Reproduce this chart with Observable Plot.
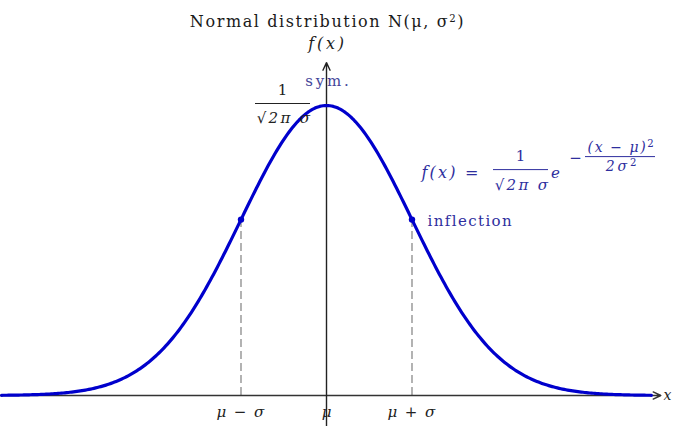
<!DOCTYPE html>
<html>
<head>
<meta charset="utf-8">
<script src="https://cdn.jsdelivr.net/npm/d3@7"></script>
<script src="https://cdn.jsdelivr.net/npm/@observablehq/plot@0.6"></script>
<style>
  html, body { margin: 0; padding: 0; background: #fff; }
</style>
</head>
<body>
<div id="chart"></div>
<script>
// Parameters of the distribution shown (standardised units)
const mu = 0;
const sigma = 1;
const curveExtent = [-3.8, 3.8];          // where the drawn curve starts / ends (in σ)
const xTicks = [mu - sigma, mu, mu + sigma];
const xTickLabels = ["μ − σ", "μ", "μ + σ"];
const inflectionX = [mu - sigma, mu + sigma];

const pdf = x => Math.exp(-((x - mu) ** 2) / (2 * sigma ** 2)) / (Math.sqrt(2 * Math.PI) * sigma);
const peak = pdf(mu);
const curve = d3.range(curveExtent[0], curveExtent[1] + 1e-9, 0.02).map(x => ({x, y: pdf(x)}));

const blue = "#0000cc";
const textBlue = "#2e2e9e";
const serif = "'DejaVu Serif', 'Liberation Serif', serif";

// letter spacing per label (applied after rendering)
const spacing = new Map([
  ["Normal distribution N(μ, σ²)", 1.6],
  ["f(x)", 2.8],
  ["sym.", 2.8],
  ["√2π σ", 2.3],
  ["f(x) =", 2.2],
  ["(x − μ)²", 1.6],
  ["2σ²", 2.8],
  ["inflection", 1.4],
  ["μ − σ", 1.4],
  ["μ + σ", 1.4]
]);

// annotation helper: absolute pixel placement inside the frame
const note = (text, dx, dy, opts = {}) =>
  Plot.text([text], {frameAnchor: "top-left", dx, dy, text: d => d, textAnchor: "middle", lineAnchor: "middle", fontSize: 13, ...opts});

const chart = Plot.plot({
  width: 673,
  height: 426,
  margin: 0,
  x: {domain: [-326 / 85.5, 347 / 85.5], range: [0, 673], axis: null},
  y: {domain: [0, peak], range: [395, 105], axis: null},
  style: {fontFamily: serif, background: "#fff", color: "#222"},
  marks: [
    // dashed verticals at μ ± σ
    Plot.ruleX(inflectionX, {x: d => d, y1: 0, y2: d => pdf(d), stroke: "#8a8a8a", strokeWidth: 1.3, strokeDasharray: "8,4"}),
    // x axis with arrow
    Plot.arrow([0], {x1: curveExtent[0] - 0.02, y1: 0, x2: 3.91, y2: 0, stroke: "#333", strokeWidth: 1.4, headLength: 9, headAngle: 50}),
    // y axis with arrow
    Plot.arrow([0], {x1: mu, y1: -0.11 * peak, x2: mu, y2: 1.148 * peak, stroke: "#222", strokeWidth: 1.4, headLength: 9, headAngle: 50}),
    // curve
    Plot.line(curve, {x: "x", y: "y", stroke: blue, strokeWidth: 3.2}),
    // inflection points
    Plot.dot(inflectionX, {x: d => d, y: d => pdf(d), r: 3.2, fill: blue, stroke: null}),
    // x tick labels
    Plot.text(xTicks, {x: d => d, y: 0, dy: 17, text: (d, i) => xTickLabels[i], fontSize: 15, fontStyle: "italic", fill: "#222"}),
    // axis labels
    note("x", 667, 395, {fontStyle: "italic", fontSize: 14}),
    note("f(x)", 327, 43, {fontStyle: "italic", fontSize: 16}),
    // title
    note("Normal distribution N(μ, σ²)", 327, 21, {fontSize: 16, fill: "#1a1a1a"}),
    // symmetry note
    note("sym.", 328, 81, {fill: "#444499", fontSize: 15}),
    // peak value fraction
    note("1", 282, 90, {fontSize: 15, fill: "#222"}),
    Plot.ruleY([peak], {x1: mu - 71 / 85.5, x2: mu - 16 / 85.5, dy: -2, stroke: "#222", strokeWidth: 1}),
    note("√2π σ", 284, 118, {fontSize: 15, fontStyle: "italic", fill: "#222"}),
    // formula
    note("f(x) =", 421, 172, {textAnchor: "start", fontSize: 16, fontStyle: "italic", fill: textBlue}),
    note("1", 520, 156, {fontSize: 15, fill: textBlue}),
    Plot.ruleY([pdf(mu + sigma)], {x1: (493 - 326) / 85.5, x2: (548 - 326) / 85.5, dy: -50, stroke: textBlue, strokeWidth: 1}),
    note("√2π σ", 522, 185, {fontSize: 15, fontStyle: "italic", fill: textBlue}),
    note("e", 555, 173, {fontSize: 15, fontStyle: "italic", fill: textBlue}),
    note("−", 575, 158, {fontSize: 15, fill: textBlue}),
    note("(x − μ)²", 621, 147, {fontSize: 14, fontStyle: "italic", fill: textBlue}),
    Plot.ruleY([pdf(mu + sigma)], {x1: (585 - 326) / 85.5, x2: (655 - 326) / 85.5, dy: -63, stroke: textBlue, strokeWidth: 1}),
    note("2σ²", 622, 166, {fontSize: 14, fontStyle: "italic", fill: textBlue}),
    // inflection note
    note("inflection", 427, 221, {textAnchor: "start", fontSize: 15, fill: textBlue})
  ]
});

// letter spacing and real raised superscripts for "²"
d3.select(chart).selectAll("text").each(function () {
  const t = this.textContent;
  const sel = d3.select(this);
  if (spacing.has(t)) sel.attr("letter-spacing", spacing.get(t));
  if (!t.includes("²")) return;
  const fs = parseFloat(sel.attr("font-size")) || parseFloat(getComputedStyle(this).fontSize) || 13;
  this.textContent = "";
  let raised = false;
  t.split(/(²)/).forEach(part => {
    if (!part) return;
    if (part === "²") {
      sel.append("tspan").attr("dy", "-0.45em").attr("font-size", fs * 0.78).attr("font-style", "normal").text("2");
      raised = true;
    } else {
      const ts = sel.append("tspan").text(part);
      if (raised) { ts.attr("dy", (0.45 * fs * 0.78) + "px"); raised = false; }
    }
  });
});

document.getElementById("chart").appendChild(chart);
</script>
</body>
</html>
